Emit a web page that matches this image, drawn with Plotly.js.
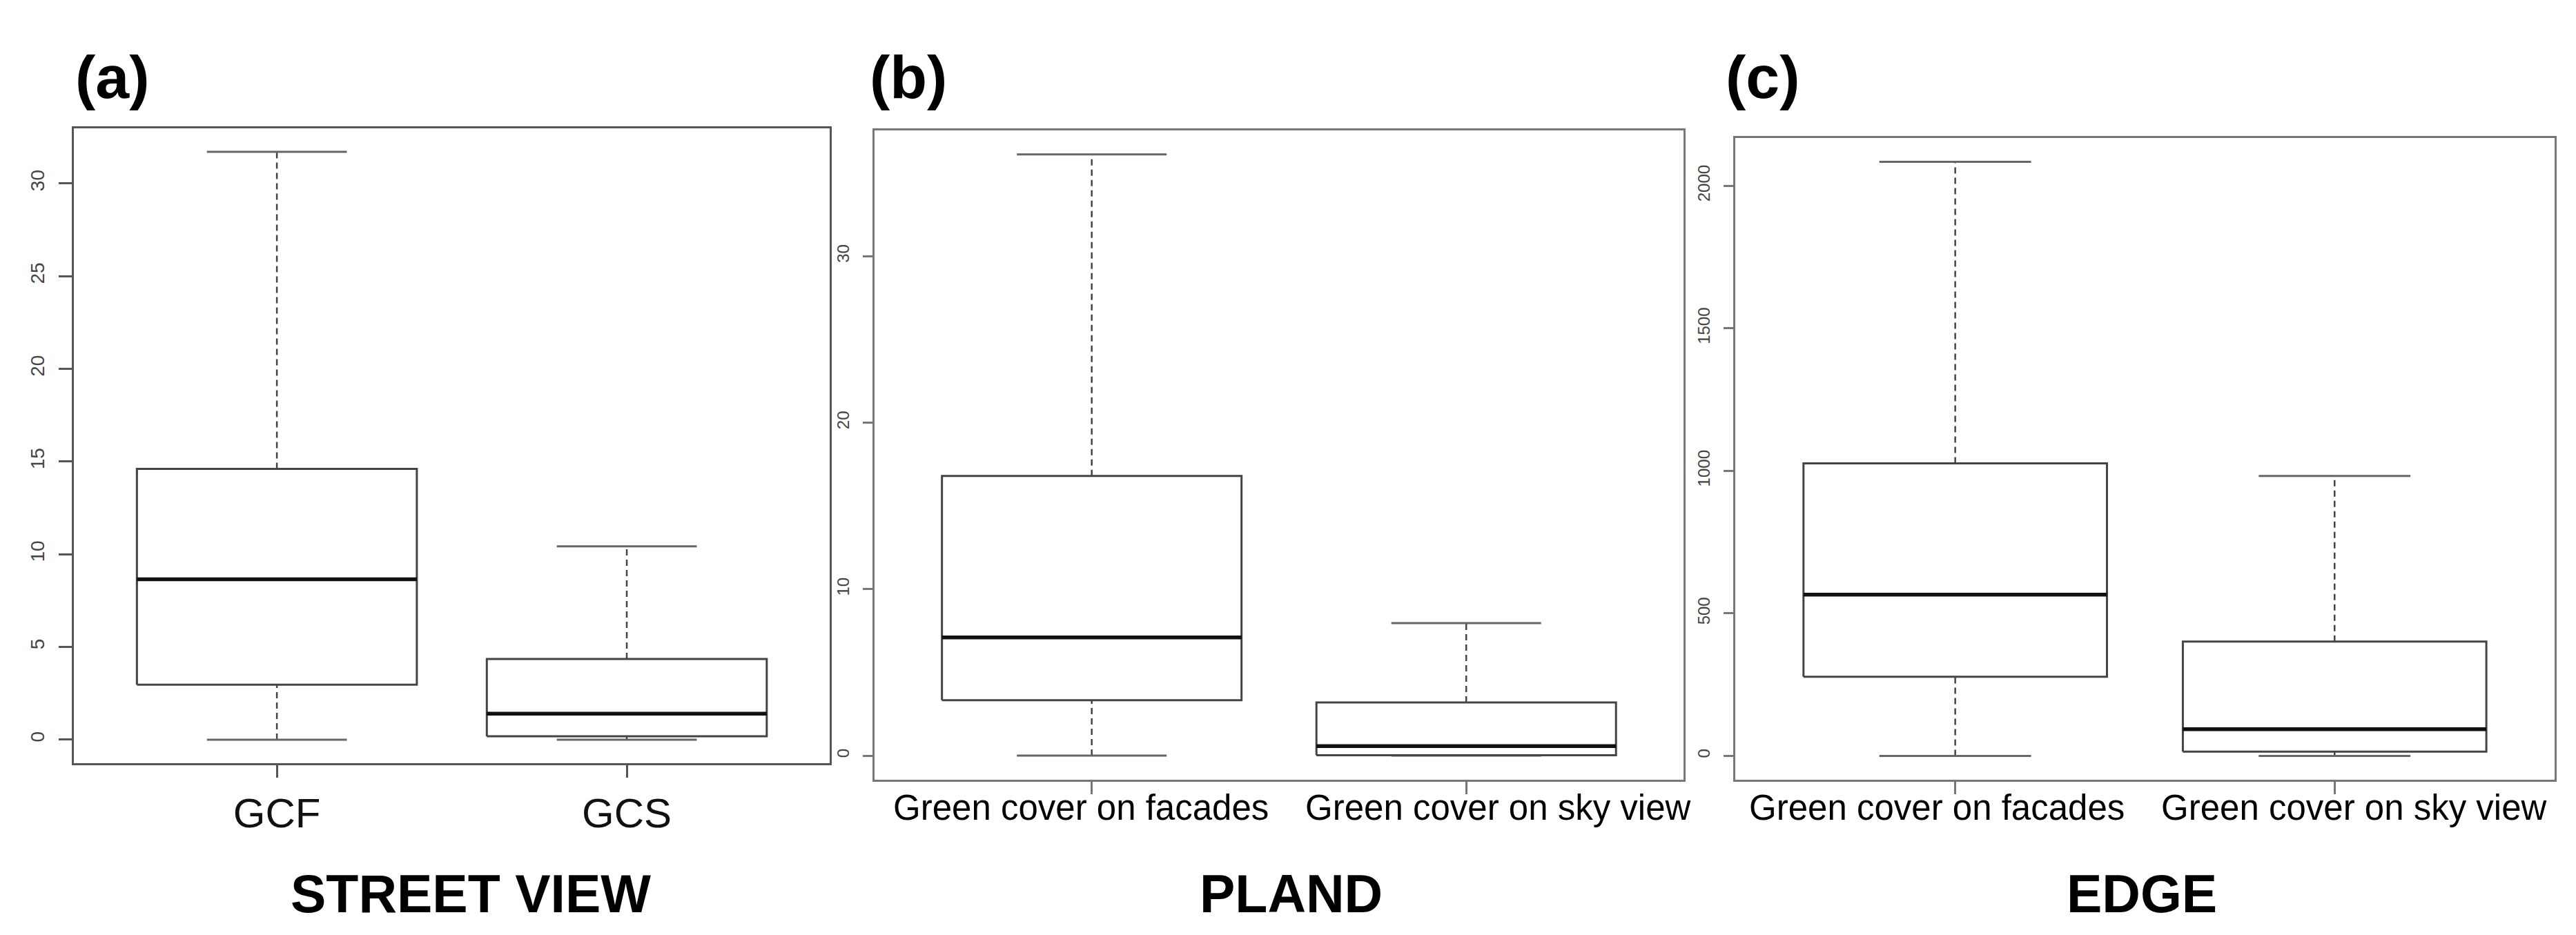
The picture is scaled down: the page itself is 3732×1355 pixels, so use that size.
<!DOCTYPE html>
<html>
<head>
<meta charset="utf-8">
<script src="https://cdn.plot.ly/plotly-3.0.1.min.js"></script>
<style>
  body { margin: 0; background: #fff; }
  #graph { width: 3732px; height: 1355px; }
</style>
</head>
<body>
<div id="graph"></div>
<script>
// categories
var streetCats = ['GCF', 'GCS'];
var coverCats = ['Green cover on facades', 'Green cover on sky view'];

// (a) STREET VIEW  [GCF, GCS]
var streetLow = [0, 0];
var streetQ1 = [2.96, 0.18];
var streetMed = [8.65, 1.4];
var streetQ3 = [14.6, 4.35];
var streetHigh = [31.7, 10.43];

// (b) PLAND  [facades, sky view]
var plandLow = [0, 0];
var plandQ1 = [3.33, 0.02];
var plandMed = [7.1, 0.57];
var plandQ3 = [16.8, 3.19];
var plandHigh = [36.1, 7.96];

// (c) EDGE  [facades, sky view]
var edgeLow = [0, 0];
var edgeQ1 = [278, 15];
var edgeMed = [566, 94];
var edgeQ3 = [1026, 401];
var edgeHigh = [2084, 982];

var FONT = 'Liberation Sans, Arial, Helvetica, sans-serif';

function line(xs, ys, xa, ya, color, width, dash) {
    return {
        x: xs, y: ys, xaxis: xa, yaxis: ya,
        mode: 'lines', type: 'scatter', hoverinfo: 'skip',
        line: { color: color, width: width, dash: dash || 'solid' }
    };
}

// R style boxplot drawn from the five numbers
function boxTraces(low, q1, med, q3, high, xa, ya) {
    var traces = [];
    for (var i = 0; i < med.length; i++) {
        var c = i + 1;
        traces.push(line([c, c], [q3[i], high[i]], xa, ya, '#444', 2.5, '9px,6px'));
        traces.push(line([c, c], [low[i], q1[i]], xa, ya, '#444', 2.5, '9px,6px'));
        traces.push(line([c - 0.2, c + 0.2], [high[i], high[i]], xa, ya, '#666', 3));
        traces.push(line([c - 0.2, c + 0.2], [low[i], low[i]], xa, ya, '#666', 3));
        traces.push(line([c - 0.4, c + 0.4, c + 0.4, c - 0.4, c - 0.4],
                         [q1[i], q1[i], q3[i], q3[i], q1[i]], xa, ya, '#444', 3));
        traces.push(line([c - 0.4, c + 0.4], [med[i], med[i]], xa, ya, '#111', 5.5));
    }
    return traces;
}

function yRange(low, high) {
    var lo = Math.min.apply(null, low), hi = Math.max.apply(null, high);
    var pad = (hi - lo) * 0.04;
    return [lo - pad, hi + pad];
}

function xAxis(domain, anchor, cats, showLabels, frame) {
    return {
        domain: domain, anchor: anchor, range: [0.42, 2.58],
        tickvals: [1, 2], ticktext: cats, showticklabels: showLabels, tickangle: 0,
        ticks: 'outside', ticklen: 18, tickwidth: 3, tickcolor: frame,
        tickfont: { family: FONT, size: 60, color: '#111' },
        showline: true, mirror: true, linecolor: frame, linewidth: 3,
        showgrid: false, zeroline: false, fixedrange: true
    };
}

function yAxis(domain, anchor, range, dtick, size, len, frame) {
    return {
        domain: domain, anchor: anchor, range: range, dtick: dtick, tick0: 0,
        tickangle: -90, ticks: 'outside', ticklen: len, tickwidth: 3, tickcolor: frame,
        ticklabelstandoff: 10,
        tickfont: { family: FONT, size: size, color: '#444' },
        showline: true, mirror: true, linecolor: frame, linewidth: 3,
        showgrid: false, zeroline: false, fixedrange: true
    };
}

var data = []
    .concat(boxTraces(streetLow, streetQ1, streetMed, streetQ3, streetHigh, 'x', 'y'))
    .concat(boxTraces(plandLow, plandQ1, plandMed, plandQ3, plandHigh, 'x2', 'y2'))
    .concat(boxTraces(edgeLow, edgeQ1, edgeMed, edgeQ3, edgeHigh, 'x3', 'y3'));

function label(text, x, y, size, anchor, xref) {
    return {
        text: text, x: x, y: y, xref: xref || 'paper', yref: 'paper',
        xanchor: anchor, yanchor: 'middle', showarrow: false,
        font: { family: FONT, size: size, color: '#000' }
    };
}

// the long category names sit side by side under panels (b) and (c)
function coverLabels(xref, rightEdge, leftEdge) {
    return [
        label(coverCats[0], rightEdge, 0.136, 51, 'right', xref),
        label(coverCats[1], leftEdge, 0.136, 51, 'left', xref)
    ];
}

var layout = {
    width: 3732, height: 1355,
    margin: { l: 0, r: 0, t: 0, b: 0 },
    paper_bgcolor: '#fff', plot_bgcolor: '#fff',
    showlegend: false,
    xaxis: xAxis([0.0287, 0.3221], 'y', streetCats, true, '#555'),
    yaxis: yAxis([0.1838, 0.8627], 'x', yRange(streetLow, streetHigh), 5, 28, 19, '#555'),
    xaxis2: xAxis([0.3395, 0.6535], 'y2', coverCats, false, '#777'),
    yaxis2: yAxis([0.1661, 0.8605], 'x2', yRange(plandLow, plandHigh), 10, 24, 14, '#777'),
    xaxis3: xAxis([0.6736, 0.9917], 'y3', coverCats, false, '#777'),
    yaxis3: yAxis([0.1661, 0.8524], 'x3', yRange(edgeLow, edgeHigh), 500, 24, 14, '#777'),
    annotations: [
        label('<b>(a)</b>', 0.0287, 0.918, 88, 'left'),
        label('<b>(b)</b>', 0.3371, 0.918, 88, 'left'),
        label('<b>(c)</b>', 0.6693, 0.918, 88, 'left'),
        label('<b>STREET VIEW</b>', 0.1827, 0.0443, 77, 'center'),
        label('<b>PLAND</b>', 0.5011, 0.0443, 77, 'center'),
        label('<b>EDGE</b>', 0.8315, 0.0443, 77, 'center')
    ].concat(coverLabels('x2', 1.477, 1.567)).concat(coverLabels('x3', 1.45, 1.54))
};

Plotly.newPlot('graph', data, layout, { staticPlot: true });
</script>
</body>
</html>
